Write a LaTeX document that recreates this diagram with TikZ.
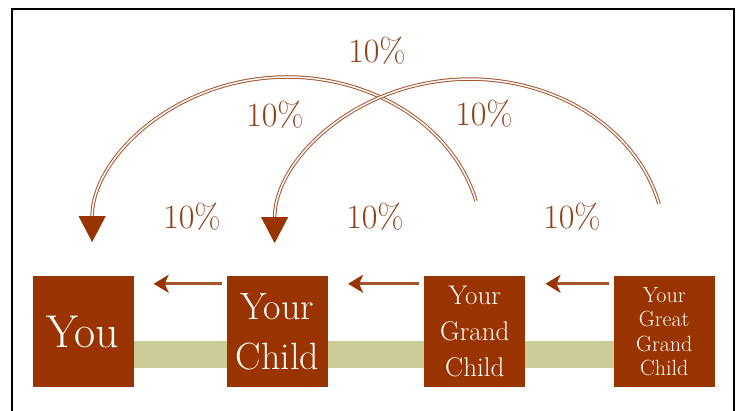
\documentclass[tikz,border=0pt]{standalone}
\usepackage{fontspec}
\usetikzlibrary{positioning}
\usetikzlibrary{arrows.meta}
\usetikzlibrary{backgrounds}
\definecolor{boxbrown}{RGB}{153,51,0}
\definecolor{arcbrown}{RGB}{165,85,45}
\definecolor{pctbrown}{RGB}{140,65,25}
\definecolor{barolive}{RGB}{204,204,153}

\tikzset{
  gen/.style={fill=boxbrown, text=white, minimum width=101pt, minimum height=111pt, inner sep=0pt, align=center},
  pct/.style={text=pctbrown, font=\fontsize{34}{34}\selectfont},
  passon/.style={draw=arcbrown, line width=3pt, -{Stealth[length=15pt,width=18pt,inset=4pt,color=boxbrown]}, shorten <=5pt, shorten >=20pt},
  gift/.style={draw=arcbrown, line width=1pt, double=white, double distance=1.5pt, -{Triangle[width=27pt,length=26pt,color=boxbrown]}},
  bar/.style={draw=barolive, line width=27pt}
}

\begin{document}
\begin{tikzpicture}[x=1pt, y=1pt]
      \useasboundingbox (0,0) rectangle (740,411);
      \draw[black, line width=2pt] (12,0) -- (12,402) -- (734,402) -- (734,0);
      % the four generations
      \node[gen, font=\fontsize{46}{50}\selectfont] (you) at (83,79.5) {You};
      \node[gen, right=93pt of you, font=\fontsize{38}{50}\selectfont] (child) {Your\\Child};
      \node[gen, right=96pt of child, font=\fontsize{27}{36}\selectfont] (grand) {Your\\Grand\\Child};
      \node[gen, right=88pt of grand, font=\fontsize{22}{24.5}\selectfont] (great) {Your\\Great\\Grand\\Child};
      \begin{scope}[on background layer]
        \draw[bar] ([yshift=-23pt]you.center) -- ([yshift=-23pt]great.center);
      \end{scope}
      % one step back
      \draw[passon] ([yshift=-8pt]child.north west) -- ([yshift=-8pt]you.north east);
      \draw[passon] ([yshift=-8pt]grand.north west) -- ([yshift=-8pt]child.north east);
      \draw[passon] ([yshift=-8pt]great.north west) -- ([yshift=-8pt]grand.north east);
      % two steps back
      \coordinate (grandfrom) at (476,210);
      \coordinate (greatfrom) at (659,207);
      \draw[gift] (grandfrom) arc[start angle=14.4, end angle=180, x radius=195, y radius=165];
      \draw[gift] (greatfrom) arc[start angle=13.8, end angle=180, x radius=195, y radius=164];
      \node[pct] (pcttop) at (377,360) {10\%};
      \node[pct] (pctleft) at (275,296) {10\%};
      \node[pct] (pctright) at (484,297) {10\%};
      \node[pct] (pctone) at (192,194) {10\%};
      \node[pct] (pcttwo) at (375,194) {10\%};
      \node[pct] (pctthree) at (572,194) {10\%};
    \end{tikzpicture}
\end{document}
